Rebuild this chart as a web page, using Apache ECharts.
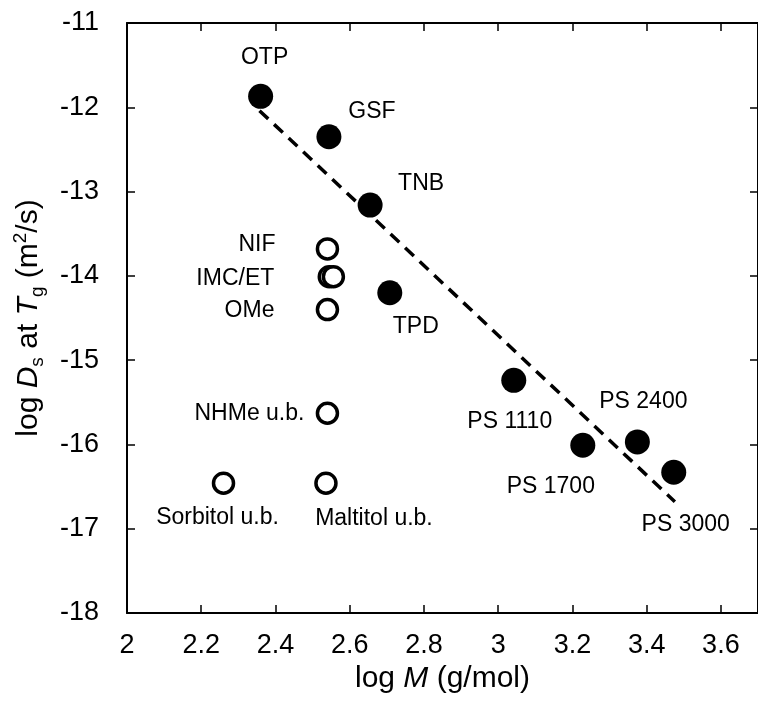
<!DOCTYPE html>
<html><head><meta charset="utf-8">
<script src="https://cdn.jsdelivr.net/npm/echarts@6/dist/echarts.min.js"></script>
<style>html,body{margin:0;padding:0;background:#fff}#c{width:758px;height:702px}</style>
</head><body><div id="c"></div>
<script>
// ---- data ----
const filledNames = ['OTP', 'GSF', 'TNB', 'TPD', 'PS 1110', 'PS 1700', 'PS 2400', 'PS 3000'];
const filledX = [2.36, 2.544, 2.655, 2.708, 3.042, 3.228, 3.375, 3.473];
const filledY = [-11.87, -12.35, -13.16, -14.20, -15.24, -16.01, -15.97, -16.33];

const openNames = ['NIF', 'IMC/ET', '', 'OMe', 'NHMe u.b.', 'Sorbitol u.b.', 'Maltitol u.b.'];
const openX = [2.54, 2.545, 2.556, 2.54, 2.54, 2.26, 2.536];
const openY = [-13.68, -14.01, -14.01, -14.40, -15.63, -16.46, -16.46];

const fitX = [2.357, 3.476];
const fitY = [-12.04, -16.68];

const xTickLabels = ['2', '2.2', '2.4', '2.6', '2.8', '3', '3.2', '3.4', '3.6'];
const yTickLabels = ['-18', '-17', '-16', '-15', '-14', '-13', '-12', '-11'];

// ---- label placement (style only) ----
const labelPlace = {
  'OTP': [4, -39, 'center'],
  'GSF': [43, -25, 'center'],
  'TNB': [51, -21, 'center'],
  'TPD': [26, 34, 'center'],
  'PS 1110': [-4, 41, 'center'],
  'PS 1700': [-32, 41, 'center'],
  'PS 2400': [6, -40, 'center'],
  'PS 3000': [12, 52, 'center'],
  'NIF': [-52, -4, 'right'],
  'IMC/ET': [-55, 2, 'right'],
  'OMe': [-53, 1, 'right'],
  'NHMe u.b.': [-23, 0, 'right'],
  'Sorbitol u.b.': [-6, 34, 'center'],
  'Maltitol u.b.': [48, 35, 'center']
};

const FONT = '"Liberation Sans", Arial, sans-serif';

function withLabel(name, x, y) {
  const p = labelPlace[name];
  const item = { value: [x, y], name: name };
  if (p && name) {
    item.label = {
      show: true, position: 'inside', offset: [p[0], p[1]], align: p[2],
      verticalAlign: 'middle', formatter: name, color: '#000',
      fontSize: 23, fontFamily: FONT
    };
  } else {
    item.label = { show: false };
  }
  return item;
}

const filledData = filledNames.map((n, i) => withLabel(n, filledX[i], filledY[i]));
const openData = openNames.map((n, i) => withLabel(n, openX[i], openY[i]));
const fitData = fitX.map((x, i) => [x, fitY[i]]);

const chart = echarts.init(document.getElementById('c'), null, { renderer: 'canvas' });

const axisLine = { show: true, lineStyle: { color: '#000', width: 2 } };
const axisTick = { show: true, inside: true, length: 8, lineStyle: { color: '#000', width: 1.5 } };

chart.setOption({
  animation: false,
  backgroundColor: '#fff',
  grid: { left: 127, top: 23, right: -6, bottom: 89, containLabel: false },
  xAxis: [{
    type: 'value', min: 2, max: 3.7, interval: 0.2, position: 'bottom',
    axisLine, axisTick, splitLine: { show: false },
    axisLabel: {
      color: '#000', fontSize: 27, fontFamily: FONT, margin: 19, showMaxLabel: false,
      formatter: v => { const i = Math.round((v - 2) / 0.2); return (Math.abs(v - 2 - i * 0.2) < 1e-6 && xTickLabels[i]) ? xTickLabels[i] : ''; }
    },
    name: 'log {i|M} (g/mol)', nameLocation: 'middle', nameGap: 38,
    nameTextStyle: {
      color: '#000', fontSize: 30, fontFamily: FONT, verticalAlign: 'top',
      rich: { i: { fontStyle: 'italic', fontSize: 30, fontFamily: FONT, color: '#000' } }
    }
  }, {
    type: 'value', min: 2, max: 3.7, interval: 0.2, position: 'top',
    axisLine, axisTick, axisLabel: { show: false }, splitLine: { show: false }
  }],
  yAxis: [{
    type: 'value', min: -18, max: -11, interval: 1, position: 'left',
    axisLine, axisTick, splitLine: { show: false },
    axisLabel: {
      color: '#000', fontSize: 27, fontFamily: FONT, margin: 28,
      formatter: v => { const i = Math.round(v + 18); return yTickLabels[i] || ''; }
    }
  }, {
    type: 'value', min: -18, max: -11, interval: 1, position: 'right',
    axisLine, axisTick, axisLabel: { show: false }, splitLine: { show: false }
  }],
  graphic: [{
    type: 'text', x: 29, y: 318, rotation: Math.PI / 2,
    style: {
      text: 'log {i|D}{sub|s} at {i|T}{sub|g} (m{sup|2}/s)',
      fill: '#000', font: '30px ' + FONT, align: 'center', verticalAlign: 'middle',
      rich: {
        i: { fontStyle: 'italic', fontSize: 30, fontFamily: FONT, fill: '#000', lineHeight: 36, verticalAlign: 'middle' },
        sub: { fontSize: 19, fontFamily: FONT, fill: '#000', lineHeight: 36, verticalAlign: 'bottom' },
        sup: { fontSize: 19, fontFamily: FONT, fill: '#000', lineHeight: 36, verticalAlign: 'top' }
      }
    }
  }],
  series: [{
    type: 'line', data: fitData, showSymbol: false, symbol: 'none', silent: true,
    lineStyle: { color: '#000', width: 3.5, type: [12, 8] }, z: 1
  }, {
    type: 'scatter', data: filledData, symbol: 'circle', symbolSize: 25,
    itemStyle: { color: '#000', opacity: 1 }, z: 3
  }, {
    type: 'scatter', data: openData, symbol: 'circle', symbolSize: 20,
    itemStyle: { color: '#fff', borderColor: '#000', borderWidth: 3.5, opacity: 1 }, z: 3
  }]
});
</script></body></html>
